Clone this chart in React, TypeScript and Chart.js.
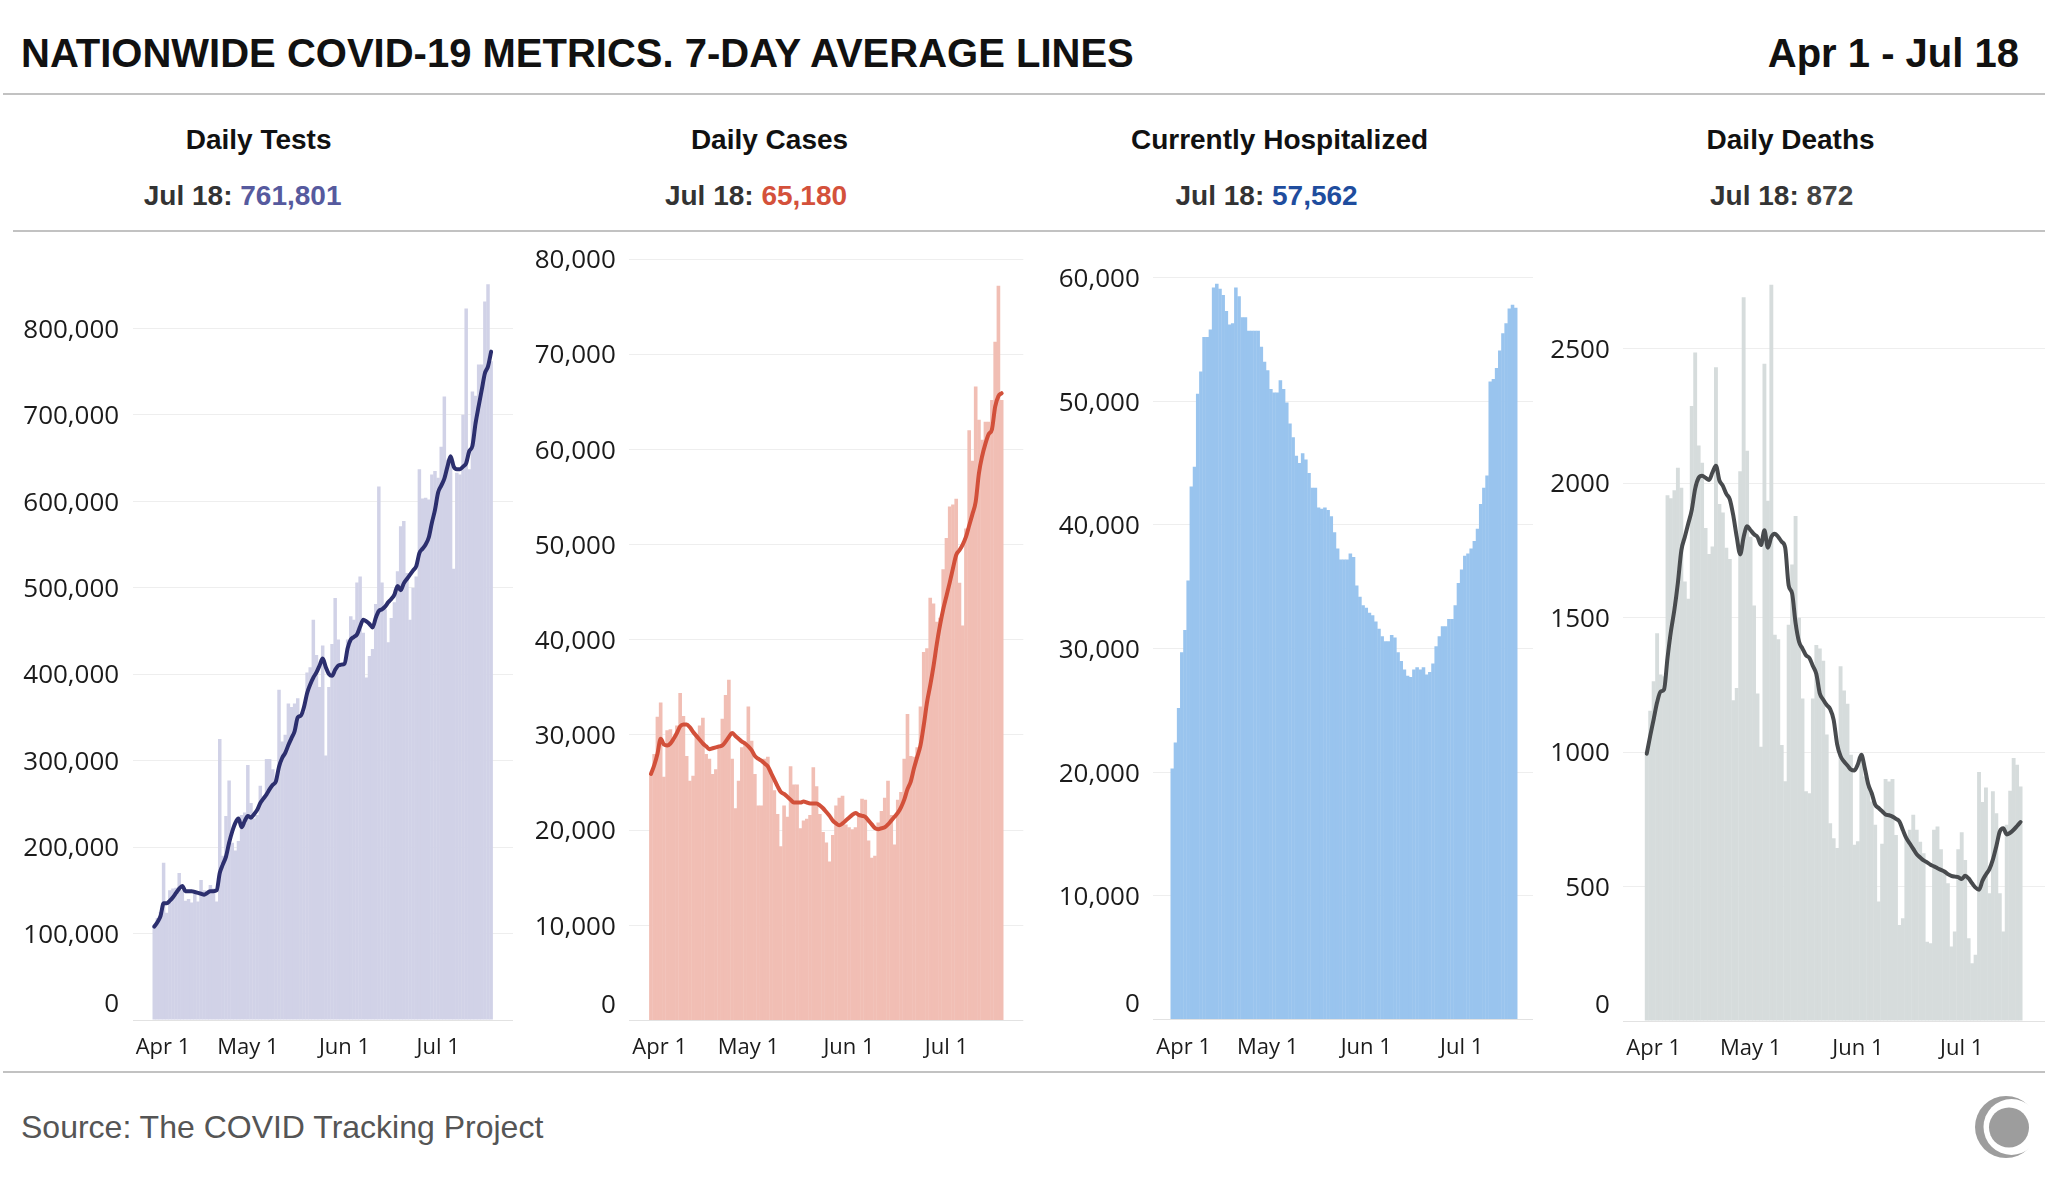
import React, { useEffect, useRef } from 'react';
import { Chart, registerables } from 'chart.js';

Chart.register(...registerables);

// ---------- data ----------
const tickDays = [0, 30, 61, 91];
const tickLabels = ['Apr 1', 'May 1', 'Jun 1', 'Jul 1'];

const testsTicks = [0, 100000, 200000, 300000, 400000, 500000, 600000, 700000, 800000];
const casesTicks = [0, 10000, 20000, 30000, 40000, 50000, 60000, 70000, 80000];
const hospTicks = [0, 10000, 20000, 30000, 40000, 50000, 60000];
const deathsTicks = [0, 500, 1000, 1500, 2000, 2500];

const testsDaily = [
  110000, 118000, 125000, 182000, 124000, 150000, 152000, 153000, 170000, 150000,
  138000, 140000, 136000, 148000, 137000, 162000, 150000, 146000, 156000, 152000,
  137000, 325000, 190000, 236000, 277000, 205000, 196000, 207000, 237000, 240000,
  295000, 251000, 233000, 237000, 271000, 256000, 302000, 302000, 290000, 275000,
  382000, 322000, 330000, 366000, 362000, 366000, 372000, 352000, 356000, 402000,
  408000, 463000, 422000, 385000, 433000, 306000, 385000, 435000, 488000, 440000,
  410000, 412000, 440000, 467000, 463000, 506000, 513000, 448000, 396000, 421000,
  429000, 481000, 617000, 506000, 475000, 437000, 465000, 483000, 519000, 571000,
  577000, 517000, 463000, 500000, 513000, 637000, 603000, 604000, 602000, 631000,
  635000, 627000, 663000, 721000, 648000, 648000, 522000, 633000, 631000, 700000,
  823000, 637000, 727000, 722000, 758000, 758000, 831000, 851000, 761801,
];
const testsAvg = [
  108000, 113000, 120000, 135000, 135000, 138000, 142000, 147000, 152000, 155000,
  149000, 149000, 149000, 148000, 147000, 146000, 145000, 147000, 149000, 149000,
  150000, 170000, 180000, 189000, 205000, 218000, 228000, 233000, 223000, 230000,
  236000, 234000, 238000, 243000, 251000, 256000, 261000, 267000, 272000, 276000,
  293000, 303000, 309000, 318000, 326000, 334000, 350000, 352000, 362000, 378000,
  388000, 396000, 402000, 410000, 418000, 408000, 400000, 398000, 405000, 410000,
  411000, 412000, 430000, 440000, 443000, 446000, 455000, 463000, 461000, 458000,
  454000, 465000, 473000, 475000, 478000, 483000, 487000, 492000, 502000, 497000,
  505000, 510000, 515000, 520000, 525000, 540000, 545000, 550000, 558000, 575000,
  590000, 610000, 618000, 626000, 640000, 652000, 640000, 637000, 637000, 640000,
  644000, 658000, 664000, 690000, 710000, 729000, 748000, 756000, 773000,
];

const casesDaily = [
  26000, 28000, 31900, 33400, 25600, 30500, 30600, 29600, 31000, 34400,
  32000, 27800, 25200, 25700, 30100, 31000, 31800, 28000, 27500, 25900,
  26400, 28700, 31700, 34200, 35800, 27500, 22300, 25200, 28700, 29200,
  33000, 29400, 25900, 22600, 22600, 27500, 27700, 25900, 24200, 21700,
  18300, 22600, 21400, 26700, 24800, 24800, 20200, 21000, 21200, 21600,
  26600, 24600, 21700, 19800, 18700, 16700, 19500, 22600, 23400, 23600,
  20600, 20300, 20100, 20300, 21600, 23300, 23200, 18900, 17100, 17300,
  20800, 22000, 23400, 25200, 21600, 18500, 23200, 24000, 27500, 32200,
  27800, 27700, 28700, 33000, 38700, 39100, 44400, 43800, 41900, 42300,
  47400, 50700, 54000, 54200, 54800, 46000, 41500, 51700, 62000, 58800,
  66600, 63100, 61000, 62900, 62900, 65200, 71300, 77200, 65180,
];
const casesAvg = [
  25900, 26800, 28000, 29600, 29000, 28900, 29100, 29600, 30200, 30900,
  31100, 31100, 30800, 30300, 29900, 29500, 29100, 28800, 28500, 28600,
  28700, 28800, 28900, 29300, 29800, 30200, 29900, 29600, 29300, 29100,
  28800, 28400, 27800, 27500, 27300, 27000, 26700, 26000, 25300, 24600,
  24000, 23800, 23500, 23200, 22900, 22900, 22900, 23000, 22900, 22800,
  22800, 22800, 22600, 22300, 21900, 21500, 21000, 20700, 20500, 20700,
  21000, 21300, 21600, 21800, 21600, 21500, 21400, 21000, 20600, 20200,
  20100, 20200, 20300, 20600, 21000, 21400, 21800, 22400, 23200, 24300,
  25100, 26500, 27700, 28900, 31000, 33400, 35200, 37200, 39500, 41500,
  43200, 44600, 46000, 47500, 48900, 49400, 50000, 50800, 52000, 53200,
  54500, 57500, 59300, 60600, 61600, 62100, 64500, 65600, 65900,
];

const hospDaily = [
  20300, 22400, 25200, 29700, 31500, 35500, 43100, 44700, 50600, 52400,
  55200, 55200, 55800, 59200, 59500, 59100, 58600, 57300, 56200, 56300,
  59200, 58500, 56800, 56800, 55700, 55700, 55700, 55700, 54400, 53200,
  52500, 51000, 50700, 50700, 51700, 51000, 49900, 48200, 47100, 45600,
  45000, 45800, 45300, 44200, 43000, 43000, 41400, 41300, 41400, 41200,
  40700, 39400, 38100, 37200, 37200, 37200, 37700, 37400, 35100, 34200,
  33500, 33300, 32900, 32700, 32200, 31600, 31000, 30600, 30600, 31100,
  30900, 29700, 29000, 28300, 27800, 27700, 28300, 28500, 28300, 28500,
  27900, 28100, 28800, 30200, 31000, 31800, 31800, 32400, 32400, 33500,
  35300, 36400, 37500, 37700, 38100, 38700, 39700, 41700, 43000, 44000,
  51600, 51800, 52700, 54100, 55500, 56300, 57500, 57800, 57562,
];

const deathsDaily = [
  992, 1154, 1263, 1442, 1289, 1282, 1955, 1944, 1974, 2057,
  1983, 1634, 1570, 2287, 2486, 2140, 2076, 1833, 1737, 1765,
  2431, 1923, 1891, 1760, 1718, 1193, 1238, 2044, 2691, 2121,
  1801, 1545, 1218, 1020, 2444, 1935, 2738, 1436, 1420, 1026,
  892, 1474, 1698, 1878, 1500, 1199, 854, 847, 1199, 1398,
  1385, 1340, 1065, 735, 680, 643, 1319, 1229, 1180, 990,
  655, 668, 996, 909, 872, 816, 730, 444, 659, 900,
  891, 900, 692, 357, 382, 680, 711, 767, 711, 667,
  624, 295, 289, 711, 723, 639, 550, 512, 277, 333,
  639, 702, 599, 308, 215, 246, 926, 814, 868, 475,
  854, 773, 475, 333, 730, 856, 978, 953, 872,
];
const deathsAvg = [
  994, 1060, 1122, 1185, 1225, 1233, 1350, 1450, 1530, 1630,
  1750, 1800, 1850, 1900, 1980, 2020, 2028, 2020, 2012, 2040,
  2065, 2010, 1990, 1960, 1940, 1880, 1800, 1735, 1800, 1840,
  1825, 1810, 1800, 1770, 1825, 1760, 1800, 1812, 1800, 1782,
  1760, 1620, 1590, 1480, 1410, 1385, 1360, 1350, 1320, 1290,
  1218, 1195, 1175, 1160, 1120, 1030, 985, 965, 950, 935,
  932, 955, 990, 940, 880, 847, 805, 792, 780, 768,
  765, 760, 752, 742, 710, 680, 660, 640, 620, 608,
  597, 590, 581, 575, 568, 562, 556, 546, 540, 537,
  535, 528, 540, 530, 512, 496, 488, 522, 545, 565,
  600, 650, 705, 717, 694, 700, 711, 725, 740,
];

const panelTitles = ['Daily Tests', 'Daily Cases', 'Currently Hospitalized', 'Daily Deaths'];
const lastDateLabel = 'Jul 18';

// ---------- presentation ----------
const comma = (v: number) => v.toLocaleString('en-US');
const plain = (v: number) => String(v);

type PanelCfg = {
  daily: number[];
  avg: number[] | null;
  barColor: string;
  lineColor: string;
  valueColor: string;
  yMax: number;
  yTicks: number[];
  fmt: (v: number) => string;
  xMin: number;
  xMax: number;
  canvasLeft: number;
  padding: { left: number; right: number; top: number; bottom: number };
  titleCenter: number;
  valueCenter: number;
};

const panels: PanelCfg[] = [
  {
    daily: testsDaily, avg: testsAvg, barColor: '#d1d2e7', lineColor: '#2c2f6e', valueColor: '#565a9e',
    yMax: 860000, yTicks: testsTicks, fmt: comma, xMin: -6.91, xMax: 115.01, canvasLeft: 0,
    padding: { left: 132.7, right: 2, top: 36.4, bottom: 50 }, titleCenter: 258.6, valueCenter: 242.6,
  },
  {
    daily: casesDaily, avg: casesAvg, barColor: '#f1beb4', lineColor: '#d2503a', valueColor: '#d4513b',
    yMax: 80000, yTicks: casesTicks, fmt: comma, xMin: -6.66, xMax: 114.66, canvasLeft: 510,
    padding: { left: 119.3, right: 1.7, top: 19, bottom: 49.5 }, titleCenter: 769.5, valueCenter: 756,
  },
  {
    daily: hospDaily, avg: null, barColor: '#99c4ee', lineColor: '#1f4fa0', valueColor: '#1f4d9e',
    yMax: 60000, yTicks: hospTicks, fmt: comma, xMin: -5.97, xMax: 113.44, canvasLeft: 1020,
    padding: { left: 133.3, right: 2, top: 37.6, bottom: 50.4 }, titleCenter: 1279.5, valueCenter: 1266.6,
  },
  {
    daily: deathsDaily, avg: deathsAvg, barColor: '#d6dcdc', lineColor: '#484b4e', valueColor: '#444444',
    yMax: 2750, yTicks: deathsTicks, fmt: plain, xMin: -6.77, xMax: 115.06, canvasLeft: 1530,
    padding: { left: 93.3, right: 0, top: 41.5, bottom: 49 }, titleCenter: 1790.6, valueCenter: 1781.6,
  },
];

const CANVAS_TOP = 240;
const CANVAS_W = 515;
const CANVAS_H = 830;

function makeLabelPlugin(cfg: PanelCfg) {
  return {
    id: 'axisLabels',
    afterDraw(chart: any) {
      const { ctx, chartArea, scales } = chart;
      ctx.save();
      ctx.fillStyle = '#1b1b1b';
      ctx.font = '500 26px "Open Sans"';
      ctx.textAlign = 'right';
      ctx.textBaseline = 'alphabetic';
      cfg.yTicks.forEach((v) => {
        let y = scales.y.getPixelForValue(v);
        if (v === 0) y -= 17;
        ctx.fillText(cfg.fmt(v), chartArea.left - 13.5, y + 9.3);
      });
      ctx.font = '500 22px "Open Sans"';
      ctx.textAlign = 'center';
      tickDays.forEach((d, i) => {
        const w = ctx.measureText(tickLabels[i]).width;
        const x = Math.max(scales.x.getPixelForValue(d), chartArea.left + 3 + w / 2);
        ctx.fillText(tickLabels[i], x, chartArea.bottom + 26 + 7.9);
      });
      ctx.restore();
    },
  };
}

function Panel({ cfg }: { cfg: PanelCfg }) {
  const ref = useRef<HTMLCanvasElement>(null);
  useEffect(() => {
    if (!ref.current) return;
    const datasets: any[] = [];
    if (cfg.avg) {
      datasets.push({
        type: 'line',
        data: cfg.avg.map((y, i) => ({ x: i, y })),
        borderColor: cfg.lineColor,
        borderWidth: 4,
        pointRadius: 0,
        cubicInterpolationMode: 'monotone',
        borderCapStyle: 'round',
        borderJoinStyle: 'round',
        fill: false,
        order: 0,
      });
    }
    datasets.push({
      type: 'bar',
      data: cfg.daily.map((y, i) => ({ x: i, y })),
      backgroundColor: cfg.barColor,
      borderWidth: 0,
      barPercentage: 1.12,
      categoryPercentage: 1,
      order: 1,
    });
    const chart = new Chart(ref.current, {
      type: 'bar',
      data: { datasets },
      options: {
        animation: false,
        responsive: false,
        maintainAspectRatio: false,
        events: [],
        layout: { padding: cfg.padding, autoPadding: false },
        plugins: { legend: { display: false }, tooltip: { enabled: false } },
        scales: {
          x: {
            type: 'linear',
            min: cfg.xMin,
            max: cfg.xMax,
            offset: false,
            bounds: 'data',
            display: false,
            grid: { offset: false },
          },
          y: {
            type: 'linear',
            min: 0,
            max: cfg.yMax,
            offset: false,
            grid: {
              color: (c: any) => (c.tick && c.tick.value === 0 ? '#e2e2e2' : '#eeeeee'),
              lineWidth: 1,
              drawTicks: false,
            },
            border: { display: false },
            ticks: { display: false },
            afterBuildTicks: (scale: any) => {
              scale.ticks = cfg.yTicks.map((v) => ({ value: v }));
            },
          },
        },
      } as any,
      plugins: [makeLabelPlugin(cfg)],
    });
    return () => chart.destroy();
  }, [cfg]);
  return (
    <canvas
      ref={ref}
      width={CANVAS_W}
      height={CANVAS_H}
      style={{ position: 'absolute', left: cfg.canvasLeft, top: CANVAS_TOP, width: CANVAS_W, height: CANVAS_H }}
    />
  );
}

const baseText: React.CSSProperties = {
  position: 'absolute',
  margin: 0,
  whiteSpace: 'nowrap',
  fontFamily: '"Liberation Sans", Arial, sans-serif',
};

export default function App() {
  return (
    <div
      style={{
        position: 'absolute',
        left: 0,
        top: 0,
        width: 2048,
        height: 1182,
        background: '#ffffff',
        overflow: 'hidden',
        fontFamily: '"Liberation Sans", Arial, sans-serif',
      }}
    >
      <div style={{ ...baseText, left: 21, top: 32.7, fontSize: 40, lineHeight: '40px', fontWeight: 700, color: '#111' }}>
        NATIONWIDE COVID-19 METRICS. 7-DAY AVERAGE LINES
      </div>
      <div style={{ ...baseText, right: 29, top: 32.7, fontSize: 40, lineHeight: '40px', fontWeight: 700, color: '#111' }}>
        Apr 1 - Jul 18
      </div>
      <div style={{ position: 'absolute', left: 3, top: 93, width: 2042, height: 2, background: '#c2c2c2' }} />

      {panels.map((p, i) => (
        <React.Fragment key={'h' + i}>
          <div
            style={{
              ...baseText, left: p.titleCenter, top: 126, transform: 'translateX(-50%)',
              fontSize: 28, lineHeight: '28px', fontWeight: 700, color: '#111',
            }}
          >
            {panelTitles[i]}
          </div>
          <div
            style={{
              ...baseText, left: p.valueCenter, top: 182, transform: 'translateX(-50%)',
              fontSize: 28, lineHeight: '28px', fontWeight: 700, color: '#333',
            }}
          >
            {lastDateLabel}: <span style={{ color: p.valueColor }}>{p.fmt(p.daily[p.daily.length - 1])}</span>
          </div>
        </React.Fragment>
      ))}
      <div style={{ position: 'absolute', left: 13, top: 229.5, width: 2032, height: 2, background: '#c2c2c2' }} />

      {panels.map((p, i) => (
        <Panel key={'p' + i} cfg={p} />
      ))}

      <div style={{ position: 'absolute', left: 3, top: 1071, width: 2042, height: 2, background: '#c2c2c2' }} />
      <div style={{ ...baseText, left: 21, top: 1111, fontSize: 32, lineHeight: '32px', color: '#555' }}>
        Source: The COVID Tracking Project
      </div>
      <svg style={{ position: 'absolute', left: 1968, top: 1088 }} width={78} height={80} viewBox="0 0 78 80">
        <circle cx={38} cy={39} r={31} fill="#9d9d9d" />
        <circle cx={43.5} cy={39} r={28} fill="#ffffff" />
        <circle cx={41} cy={39.5} r={20} fill="#9d9d9d" />
      </svg>
    </div>
  );
}
